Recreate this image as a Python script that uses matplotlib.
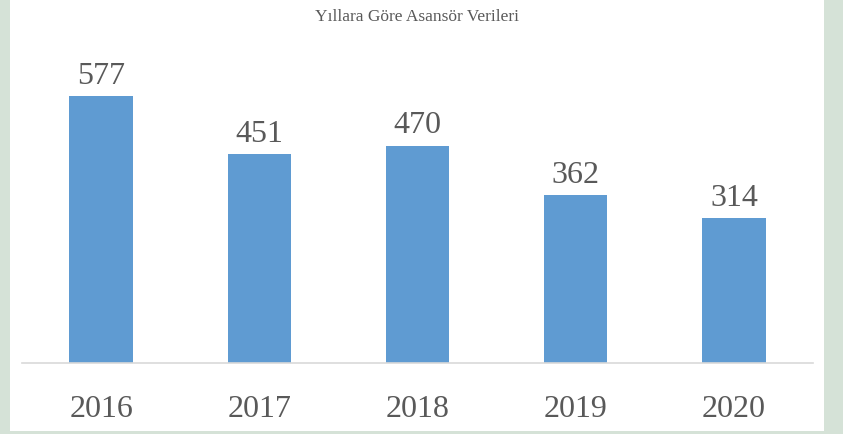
import matplotlib.pyplot as plt
import matplotlib.patches as patches

years = ["2016", "2017", "2018", "2019", "2020"]
counts = [577, 451, 470, 362, 314]

W, H = 843, 435
fig = plt.figure(figsize=(W / 100, H / 100), dpi=100)
fig.patch.set_facecolor("#d5e2d7")

# white panel over the green slide background
fig.add_artist(patches.Rectangle((10 / W, 3 / H), 814 / W, 432 / H,
                                 transform=fig.transFigure, facecolor="white",
                                 edgecolor="none", zorder=0))

ax = fig.add_axes([22 / W, (H - 364) / H, 791 / W, 334 / H])
ax.set_facecolor("none")

x = range(len(years))
bars = ax.bar(x, counts, width=0.4, color="#5f9bd2", zorder=2)
ax.set_xlim(-0.5, len(years) - 0.5)
ax.set_ylim(0, 364 / 267 * 577 * 334 / 364)

for b, v in zip(bars, counts):
    ax.text(b.get_x() + b.get_width() / 2, v + 13, str(v), ha="center", va="bottom",
            fontsize=23, color="#595959", family="Liberation Serif")

ax.set_xticks(list(x))
ax.set_xticklabels(years, fontsize=23, color="#595959", family="Liberation Serif")
ax.tick_params(axis="x", length=0, pad=22)
ax.set_yticks([])
for s in ["top", "right", "left"]:
    ax.spines[s].set_visible(False)
ax.spines["bottom"].set_color("#d9d9d9")
ax.spines["bottom"].set_linewidth(1.2)

fig.text(417 / W, 1 - 17 / H, "Yıllara Göre Asansör Verileri", ha="center", va="center",
         fontsize=12.5, color="#595959", family="Liberation Serif")

fig.savefig("out.png", dpi=100, facecolor=fig.get_facecolor())
